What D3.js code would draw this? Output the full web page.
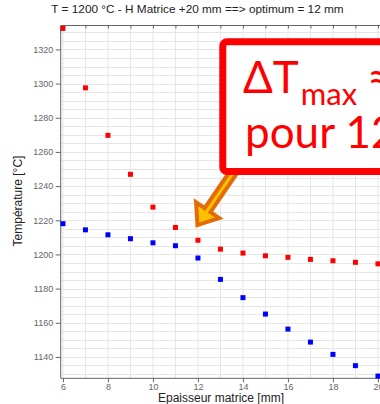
<!DOCTYPE html>
<html>
<head>
<meta charset="utf-8">
<script src="https://cdn.jsdelivr.net/npm/d3@7"></script>
<style>
  body { margin: 0; background: #fff; }
  svg { display: block; font-family: "Liberation Sans", Arial, sans-serif; }
</style>
</head>
<body>
<div id="chart"></div>
<script>
// Epaisseur matrice [mm]
var epaisseur = [6, 7, 8, 9, 10, 11, 12, 13, 14, 15, 16, 17, 18, 19, 20];
// Temperatures [°C]
var tempRouge = [1332.3, 1297.5, 1269.7, 1246.9, 1227.7, 1215.8, 1208.3, 1203.1, 1200.8, 1199.2, 1198.3, 1197.1, 1196.3, 1195.4, 1194.5];
var tempBleu = [1218.0, 1214.4, 1211.5, 1209.2, 1206.8, 1205.1, 1197.9, 1185.4, 1174.7, 1165.1, 1156.3, 1148.7, 1141.5, 1134.9, 1128.8];

var yTicks = [1140, 1160, 1180, 1200, 1220, 1240, 1260, 1280, 1300, 1320];
var xTicks = [6, 8, 10, 12, 14, 16, 18, 20];

var titre = "T = 1200 °C - H Matrice +20 mm ==> optimum = 12 mm";
var labelX = "Epaisseur matrice [mm]";
var labelY = "Température [°C]";

var width = 380,
    height = 404;

var plotLeft = 60.7, plotTop = 25.5, plotBottom = 378.3;

var x = d3.scaleLinear()
    .domain([5.9, 20.3])
    .range([plotLeft, plotLeft + 14.4 * 22.5]);

var y = d3.scaleLinear()
    .domain([1127.5, 1334])
    .range([plotBottom, plotTop]);

var svg = d3.select("#chart")
    .append("svg")
    .attr("width", width)
    .attr("height", height);

svg.append("rect")
    .attr("width", width)
    .attr("height", height)
    .attr("fill", "#fff");

// grid
var grid = svg.append("g").attr("class", "grid");
grid.selectAll(".gx")
    .data(d3.range(6, 21))
    .enter()
    .append("line")
    .attr("x1", d => x(d)).attr("x2", d => x(d))
    .attr("y1", plotTop).attr("y2", plotBottom)
    .style("stroke", "#e6e6e6")
    .style("stroke-width", 1);
grid.selectAll(".gy")
    .data(d3.range(1130, 1335, 5))
    .enter()
    .append("line")
    .attr("x1", plotLeft).attr("x2", width)
    .attr("y1", d => Math.round(y(d)) + 0.5).attr("y2", d => Math.round(y(d)) + 0.5)
    .style("stroke", "#e6e6e6")
    .style("stroke-width", 1);

// axes
var xAxis = d3.axisBottom(x)
    .tickValues(xTicks)
    .tickSize(4)
    .tickPadding(1.5)
    .tickFormat(d3.format("d"));
var yAxis = d3.axisLeft(y)
    .tickValues(yTicks)
    .tickSize(5)
    .tickPadding(2.5)
    .tickFormat(d3.format("d"));
var topAxis = d3.axisBottom(x)
    .tickValues(d3.range(6, 21))
    .tickSize(3)
    .tickFormat("");

svg.append("g")
    .attr("transform", "translate(0," + plotBottom + ")")
    .call(xAxis)
    .call(g => g.select(".domain").attr("d", "M" + plotLeft + ",0H" + width));
svg.append("g")
    .attr("transform", "translate(" + plotLeft + ",0)")
    .call(yAxis)
    .call(g => g.select(".domain").attr("d", "M0," + plotTop + "V" + plotBottom));
svg.append("g")
    .attr("transform", "translate(0," + plotTop + ")")
    .call(topAxis)
    .call(g => g.select(".domain").attr("d", "M" + plotLeft + ",0H" + width));

svg.selectAll(".domain").style("stroke", "#666");
svg.selectAll(".tick line").style("stroke", "#666");
svg.selectAll(".tick text")
    .style("fill", "#666")
    .style("font-size", "9px")
    .style("font-family", "Liberation Sans, Arial, sans-serif");

// points
var ptsRouge = epaisseur.map((e, i) => ({x: e, t: tempRouge[i]}));
var ptsBleu = epaisseur.map((e, i) => ({x: e, t: tempBleu[i]}));

function drawSquares(data, color) {
    svg.append("g")
        .selectAll("rect")
        .data(data)
        .enter()
        .append("rect")
        .attr("x", d => x(d.x) - 2.5)
        .attr("y", d => y(d.t) - 2.5)
        .attr("width", 5)
        .attr("height", 5)
        .style("fill", color);
}
drawSquares(ptsRouge, "#ff0000");
drawSquares(ptsBleu, "#0000ff");

// labels
svg.append("text")
    .attr("x", 197.5)
    .attr("y", 12.8)
    .attr("text-anchor", "middle")
    .style("font-size", "11.8px")
    .style("fill", "#222")
    .text(titre);

svg.append("text")
    .attr("x", 221)
    .attr("y", 401.5)
    .attr("text-anchor", "middle")
    .style("font-size", "12px")
    .style("fill", "#222")
    .text(labelX);

svg.append("text")
    .attr("transform", "translate(21.5,201) rotate(-90)")
    .attr("text-anchor", "middle")
    .style("font-size", "12px")
    .style("fill", "#222")
    .text(labelY);

// annotation: arrow pointing to optimum
var tip = [x(12) - 0.5, y(1217.2)],
    tail = [x(14.3), y(1262)];
var dx = tip[0] - tail[0], dy = tip[1] - tail[1];
var len = Math.sqrt(dx * dx + dy * dy);
var ang = Math.atan2(dy, dx) * 180 / Math.PI;
var hw = 3.5, headW = 14, headL = 18;
var arrowPts = [
    [0, -hw], [len - headL, -hw], [len - headL, -headW],
    [len, 0],
    [len - headL, headW], [len - headL, hw], [0, hw]
];
svg.append("polygon")
    .attr("points", arrowPts.map(p => p.join(",")).join(" "))
    .attr("transform", "translate(" + tail[0] + "," + tail[1] + ") rotate(" + ang + ")")
    .style("fill", "#ffc000")
    .style("stroke", "#e36c09")
    .style("stroke-width", 4)
    .style("stroke-linejoin", "miter");

// callout box
svg.append("rect")
    .attr("x", 222.8)
    .attr("y", 41.8)
    .attr("width", 260)
    .attr("height", 129.7)
    .attr("rx", 4)
    .style("fill", "#fff")
    .style("stroke", "#ff0000")
    .style("stroke-width", 7);

var note = svg.append("text")
    .attr("x", 243)
    .attr("y", 93.3)
    .style("font-family", "Lato, 'Open Sans', sans-serif")
    .style("font-size", "44px")
    .style("fill", "#ff0000");
note.append("tspan").text("ΔT");
note.append("tspan")
    .attr("dy", 12)
    .attr("dx", 2)
    .style("font-size", "31px")
    .text("max");
note.append("tspan")
    .attr("dy", -12)
    .attr("dx", 10)
    .text("≈ 15 °C");

svg.append("text")
    .attr("x", 245)
    .attr("y", 148.3)
    .style("font-family", "Lato, 'Open Sans', sans-serif")
    .style("font-size", "44px")
    .style("fill", "#ff0000")
    .text("pour 12 mm");
</script>
</body>
</html>
